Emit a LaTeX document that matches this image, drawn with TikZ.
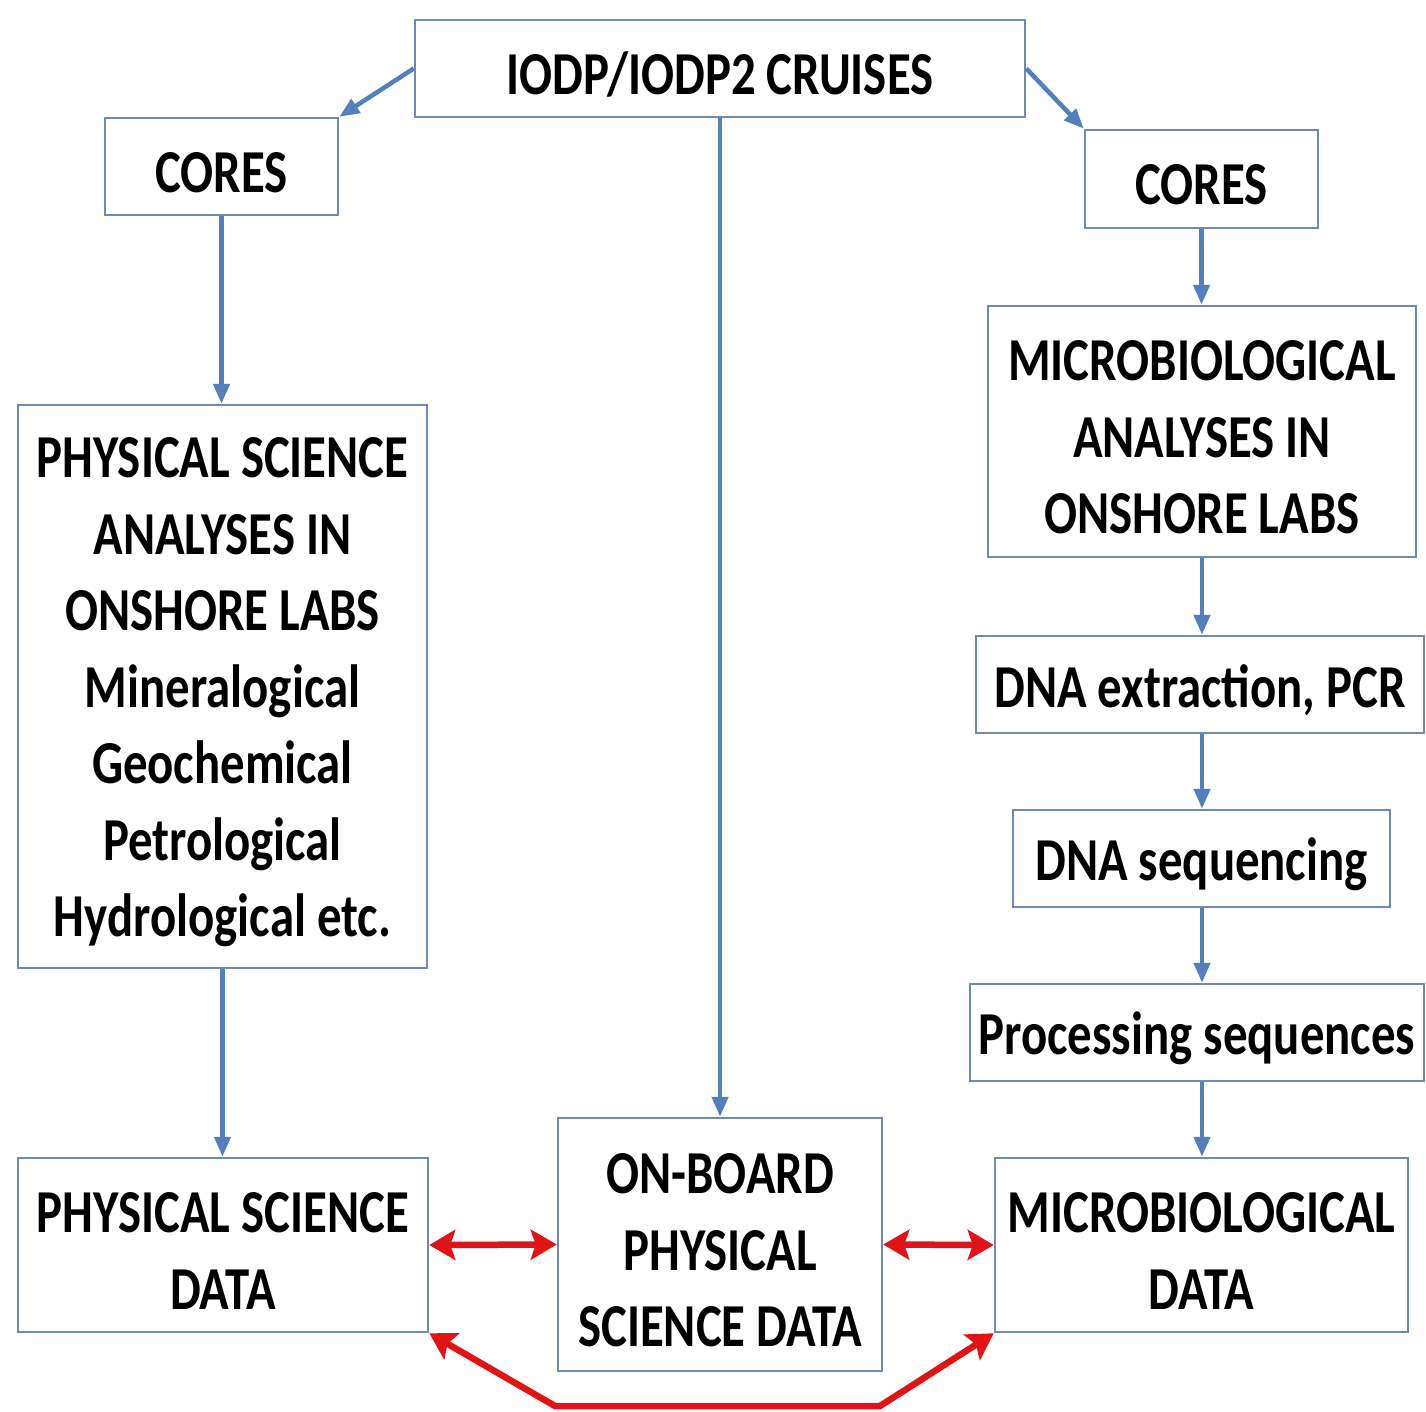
\documentclass[tikz,border=0pt]{standalone}
\usepackage{fontspec}
\setmainfont{Carlito}[FakeStretch=0.8]
\usetikzlibrary{arrows.meta}
\definecolor{boxc}{RGB}{112,137,175}
\definecolor{bluearr}{RGB}{84,127,189}
\definecolor{redarr}{RGB}{224,20,20}
\tikzset{
  box/.style={draw=boxc, line width=2.5pt, inner sep=0pt},
  boxtext/.style={align=center, inner sep=0pt, yshift=-6pt,
    font=\fontsize{61}{76.5}\selectfont\bfseries, text=black},
  barr/.style={draw=bluearr, line width=4.5pt, -{Triangle[length=20pt,width=16pt]}},
  rarr/.style={draw=redarr, line width=6.5pt, {Stealth[length=26pt,width=30pt,inset=5pt]}-{Stealth[length=26pt,width=30pt,inset=5pt]}},
}
% \mybox{name}{x}{y}{width}{height}{text}
\newcommand{\mybox}[6]{%
  \node[box, minimum width=#4pt, minimum height=#5pt] (#1) at (#2,#3) {};
  \node[boxtext] (#1-t) at (#1.center) {#6};
}
\begin{document}
\begin{tikzpicture}[x=1pt,y=-1pt]
\useasboundingbox[fill=white] (0,0) rectangle (1426,1411);
\mybox{iodp}{720}{68.5}{610}{97}{IODP/IODP2 CRUISES}
\mybox{coresl}{221.5}{166.5}{233}{97}{CORES}
\mybox{coresr}{1201.5}{179}{233}{98}{CORES}
\mybox{psa}{222.5}{686.5}{409}{563}{PHYSICAL SCIENCE\\ANALYSES IN\\ONSHORE LABS\\Mineralogical\\Geochemical\\Petrological\\Hydrological etc.}
\mybox{mba}{1202}{431.5}{428}{251}{MICROBIOLOGICAL\\ANALYSES IN\\ONSHORE LABS}
\mybox{dnae}{1200}{684.5}{448}{97}{DNA extraction, PCR}
\mybox{dnas}{1201.5}{858.5}{377}{97}{DNA sequencing}
\mybox{proc}{1197}{1032.5}{454}{97}{Processing sequences}
\mybox{psd}{223}{1245}{410}{174}{PHYSICAL SCIENCE\\DATA}
\mybox{ob}{720}{1244.5}{324}{253}{ON-BOARD\\PHYSICAL\\SCIENCE DATA}
\mybox{mbd}{1201.5}{1245}{413}{174}{MICROBIOLOGICAL\\DATA}

\draw[barr] (iodp.west) -- (coresl.north east);
\draw[barr] (iodp.east) -- (coresr.north west);
\draw[barr] (iodp.south) -- (ob.north);
\draw[barr] (coresl.south) -- (coresl.south |- psa.north);
\draw[barr] (psa.south) -- (psa.south |- psd.north);
\draw[barr] (coresr.south) -- (coresr.south |- mba.north);
\draw[barr] (mba.south) -- (mba.south |- dnae.north);
\draw[barr] (mba.south |- dnae.south) -- (mba.south |- dnas.north);
\draw[barr] (mba.south |- dnas.south) -- (mba.south |- proc.north);
\draw[barr] (mba.south |- proc.south) -- (mba.south |- mbd.north);

\draw[rarr] (psd.east) -- (ob.west);
\draw[rarr] (ob.east) -- (mbd.west);
\coordinate (bl) at (555,1406);
\coordinate (br) at (880,1406);
\draw[rarr] (psd.south east) -- (bl) -- (br) -- (mbd.south west);
\end{tikzpicture}
\end{document}
